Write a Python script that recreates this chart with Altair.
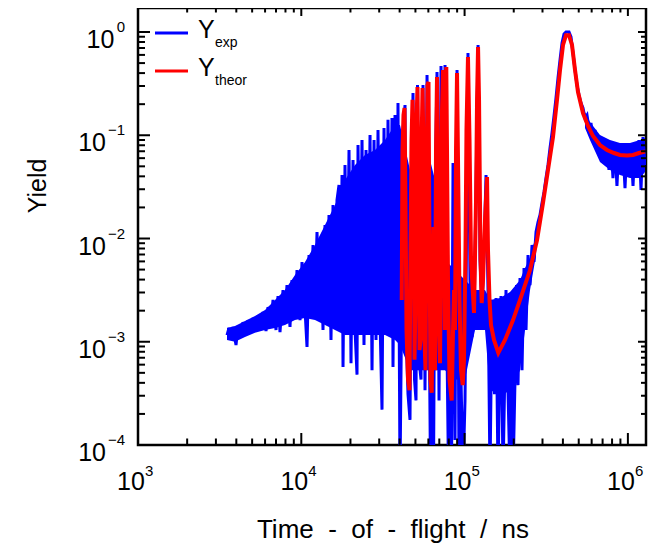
import altair as alt
import pandas as pd

FONT = "Liberation Sans"

# ---------------- data ----------------
# Experimental yield (blue) spikes, as (time-of-flight ns, yield)
exp_rise = [
    (3508, 0.00116), (3609, 0.00136), (3711, 0.00109), (3818, 0.00139), (3983, 0.00093),
    (4097, 0.00142), (4274, 0.00114), (4396, 0.00155), (4585, 0.00119), (4716, 0.00162),
    (4920, 0.00122), (5060, 0.00170), (5280, 0.00130), (5431, 0.00178), (5666, 0.00136),
    (5827, 0.00194), (6080, 0.00127), (6254, 0.00217), (6524, 0.00145), (6711, 0.00254),
    (7001, 0.00130), (7201, 0.00277), (7406, 0.00124), (7727, 0.00317), (7947, 0.00170),
    (8174, 0.00354), (8527, 0.00139), (8771, 0.00396), (9151, 0.00182), (9413, 0.00495),
    (9820, 0.00162), (10100, 0.00592), (10540, 0.00203), (10840, 0.00089), (11150, 0.00692),
    (11470, 0.00254), (11800, 0.00865), (12130, 0.00194), (12480, 0.01156), (12840, 0.00254),
    (13210, 0.00967), (13580, 0.00130), (13970, 0.0135), (14370, 0.00170), (14780, 0.0169),
    (15200, 0.00104), (15640, 0.0211), (16080, 0.00155), (16540, 0.0236),
]
exp_dense = [
    (17020, 0.0330), (17260, 0.00130), (17760, 0.0412), (18010, 0.00057), (18520, 0.0515),
    (19050, 0.00162), (19600, 0.0720), (20160, 0.00062), (20740, 0.0576), (21330, 0.00130),
    (21940, 0.00048), (22250, 0.0804), (22880, 0.00162), (23540, 0.0899), (24210, 0.00093),
    (24910, 0.0720), (25620, 0.00254), (26360, 0.1006), (27110, 0.00053), (27890, 0.0899),
    (28680, 0.00104), (29500, 0.1124), (30340, 0.00162), (31210, 0.00022), (32100, 0.1175),
    (33020, 0.00116), (33960, 0.141), (34930, 0.00254), (35930, 0.147), (36440, 0.00057),
    (37490, 0.157), (38560, 0.00130), (39100, 0.205), (40220, 5e-5),
]
exp_osc = [
    (41200, 0.00254), (41960, 0.1124), (43170, 0.196), (43780, 0.00130), (45030, 0.00031),
    (46320, 0.000175), (47310, 0.0236), (48320, 0.257), (49360, 0.00043), (50410, 0.00027),
    (51480, 0.307), (52580, 0.00067), (54090, 0.00043), (55640, 0.307), (57230, 0.00034),
    (58880, 0.383), (60560, 0.00254), (61850, 5e-5), (63170, 0.00130), (64520, 5e-5),
    (65900, 0.0236), (67780, 0.410), (69730, 0.00027), (71720, 0.469), (73770, 0.00254),
    (75880, 0.479), (78050, 0.00083), (79720, 5e-5), (81420, 0.00043), (83170, 5e-5),
    (84950, 0.0538), (87380, 0.000112), (89880, 0.428), (92440, 5e-5), (95080, 0.00043),
    (97790, 5e-5), (100600, 0.00027), (102000, 0.00254), (104900, 0.626), (107900, 0.00396),
    (111000, 0.00111), (114200, 0.00162), (117500, 0.0295), (120900, 0.748), (124300, 0.00619),
    (127900, 0.00203), (131500, 0.00774), (135300, 0.0412), (139100, 0.00317), (143100, 5e-5),
    (145100, 0.00034), (149300, 0.00254), (152500, 0.00031), (155800, 0.00265), (160200, 5e-5),
    (163600, 0.00038), (167100, 0.00277), (171900, 5e-5), (175600, 0.00034), (179300, 0.00317),
    (184500, 0.00032), (189700, 5e-5), (193800, 0.00254), (198000, 5e-5), (203600, 0.00043),
    (208000, 0.00354), (212400, 0.00038), (218500, 0.00414), (224700, 0.00053), (231200, 0.00518),
    (237800, 0.00130), (244600, 0.00692), (251600, 0.00354), (258800, 0.00865), (266200, 0.00592),
    (273800, 0.01156),
]
exp_peak = [
    (281600, 0.0144), (289600, 0.0169), (297900, 0.0221), (306400, 0.0282), (315200, 0.0385),
    (324200, 0.0515), (333500, 0.0752), (343000, 0.1051), (352800, 0.1536), (362900, 0.230),
    (373300, 0.3585), (384000, 0.5356), (395000, 0.782), (406300, 0.956), (417900, 1.0),
    (436000, 1.0), (448400, 0.895), (461200, 0.626), (474500, 0.428), (488000, 0.307),
    (501900, 0.2454), (516300, 0.205), (531000, 0.1836), (546200, 0.147), (561800, 0.157),
    (577900, 0.1175), (594300, 0.1314), (611400, 0.0899), (628800, 0.1124), (646800, 0.0752),
    (665200, 0.0983), (684300, 0.0644), (703800, 0.0899), (724000, 0.0538), (744600, 0.0860),
    (765900, 0.0461), (787800, 0.0841), (810200, 0.0385), (833400, 0.0787), (857200, 0.0323),
    (881700, 0.0804), (907800, 0.0441), (933500, 0.0720), (960300, 0.0308), (987600, 0.0823),
    (1016000, 0.0412), (1045000, 0.0770), (1075000, 0.0323), (1106000, 0.0841), (1137000, 0.0461),
    (1170000, 0.0899), (1203000, 0.0295), (1237000, 0.0962), (1273000, 0.0515),
]

# Dense core of the experimental band: (time ns, lower yield, upper yield)
exp_band_early = [
    (3508, 0.00104, 0.00136), (3927, 0.00100, 0.00142), (4521, 0.00111, 0.00159),
    (5206, 0.00122, 0.00178), (5995, 0.00130, 0.00203), (6902, 0.00136, 0.00254),
    (7947, 0.00145, 0.00317), (9151, 0.00162, 0.00443), (10540, 0.00170, 0.00592),
    (12130, 0.00162, 0.00865), (13970, 0.00145, 0.0135), (16080, 0.00130, 0.0211),
    (18520, 0.00116, 0.0369), (21330, 0.00116, 0.0515), (24550, 0.00116, 0.0644),
    (28280, 0.00116, 0.0720), (32560, 0.00116, 0.0899), (37490, 0.00104, 0.126),
    (40220, 0.00093, 0.126), (46320, 0.00053, 0.0461), (53330, 0.00053, 0.0576),
    (61420, 0.00053, 0.0576), (70710, 0.00053, 0.0236), (75880, 0.00053, 0.0062),
    (87380, 0.00043, 0.00495), (100600, 0.00043, 0.00396), (115800, 0.00130, 0.00317),
    (133400, 0.00130, 0.00317), (143100, 0.00034, 0.00254), (165000, 0.00031, 0.00265),
    (189700, 0.00033, 0.00303), (218500, 0.00053, 0.00396), (234400, 0.00130, 0.00518),
    (251600, 0.00317, 0.00648), (273800, 0.00692, 0.0108),
]
exp_band_tail = [
    (546200, 0.1175, 0.168), (586100, 0.0899, 0.1344), (674700, 0.0551, 0.1006),
    (776900, 0.0461, 0.0899), (894400, 0.0412, 0.0841), (1030000, 0.0385, 0.0841),
    (1186000, 0.0385, 0.0899), (1273000, 0.0441, 0.0941),
]

# Theoretical yield (red)
theor_pts = [
    (41200, 0.00254), (41670, 0.0720), (42260, 0.157), (42860, 0.1836), (43470, 0.0236),
    (44090, 0.00130), (45030, 0.00043), (45990, 0.00034), (46640, 0.00774), (47310, 0.0899),
    (47980, 0.220), (48670, 0.0369), (49360, 0.00067), (50060, 0.00254), (50760, 0.141),
    (51480, 0.293), (52220, 0.0236), (52960, 0.00083), (53700, 0.00104), (54460, 0.0720),
    (55250, 0.287), (56030, 0.0720), (56830, 0.00104), (57630, 0.00053), (58460, 0.0236),
    (59290, 0.307), (60120, 0.328), (60980, 0.00774), (61850, 0.00043), (62900, 0.00032),
    (63790, 0.00254), (64520, 0.0129), (65260, 0.00254), (65900, 0.00053), (66830, 0.0720),
    (67780, 0.366), (68740, 0.0720), (69730, 0.00130), (70710, 0.00062), (71720, 0.00774),
    (72740, 0.176), (73770, 0.428), (74810, 0.0236), (75660, 0.00130), (76410, 0.0720),
    (77270, 0.458), (78050, 0.0720), (79150, 0.00396), (80840, 0.00043), (83390, 0.00027),
    (84950, 0.00130), (86150, 0.00317), (87380, 0.00130), (88620, 0.0720), (89880, 0.401),
    (91150, 0.0576), (93100, 0.00254), (95080, 0.00053), (97380, 0.00038), (99170, 0.00067),
    (101300, 0.00774), (102700, 0.1124), (104900, 0.573), (107200, 0.0899), (109500, 0.00619),
    (114200, 0.00190), (117500, 0.0236), (119200, 0.220), (120900, 0.716), (122600, 0.220),
    (125200, 0.00619), (127300, 0.00237), (129700, 0.00396), (133400, 0.0151), (137200, 0.0394),
    (139100, 0.00774), (142100, 0.00254), (145100, 0.00145), (151400, 0.00104), (160900, 0.00078),
    (176800, 0.00104), (198000, 0.00162), (218500, 0.00254), (251600, 0.00495), (277700, 0.00967),
    (302100, 0.0221), (324200, 0.0461), (347900, 0.0962), (368100, 0.220), (384000, 0.428),
    (400600, 0.748), (417900, 0.93), (436000, 0.93), (454800, 0.748), (474500, 0.428),
    (494900, 0.262), (531000, 0.164), (569800, 0.123), (611400, 0.0983), (674700, 0.0804),
    (744600, 0.0720), (822500, 0.0673), (894100, 0.0644), (987600, 0.0637), (1075000, 0.0644),
    (1170000, 0.0673), (1273000, 0.0696),
]

x_decades = [3, 4, 5, 6]
y_decades = [-4, -3, -2, -1, 0]
x_min, x_max = 1e3, 1.291e6
y_min, y_max = 1e-4, 1.708

x_title = "Time\u00a0 -\u00a0 of\u00a0 -\u00a0 flight\u00a0 /\u00a0 ns"
y_title = "Yield"
legend_names = ["exp", "theor"]
legend_colors = ["#0000FF", "#FF0000"]

# ---------------- chart ----------------
W, H = 508, 437
BLUE, RED = "#0000FF", "#FF0000"
xs = alt.Scale(type="log", domain=[x_min, x_max], nice=False)
ys = alt.Scale(type="log", domain=[y_min, y_max], nice=False)

exp_df = pd.DataFrame(exp_rise + exp_dense + exp_osc + exp_peak, columns=["t", "y"])
theor_df = pd.DataFrame(theor_pts, columns=["t", "y"])


def band(rows):
    df = pd.DataFrame(rows, columns=["t", "lo", "hi"])
    return alt.Chart(df).mark_area(color=BLUE, opacity=1, clip=True).encode(
        x=alt.X("t:Q", scale=xs, axis=None),
        y=alt.Y("lo:Q", scale=ys, axis=None), y2="hi:Q")


blue = alt.Chart(exp_df).mark_line(color=BLUE, strokeWidth=3, clip=True).encode(
    x=alt.X("t:Q", scale=xs, axis=None), y=alt.Y("y:Q", scale=ys, axis=None))
red = alt.Chart(theor_df).mark_line(color=RED, strokeWidth=4, clip=True).encode(
    x=alt.X("t:Q", scale=xs, axis=None), y=alt.Y("y:Q", scale=ys, axis=None))

x_major_df = pd.DataFrame({"v": [10.0 ** k for k in x_decades], "e": [str(k) for k in x_decades]})
x_minor_df = pd.DataFrame({"v": [m * 10.0 ** k for k in x_decades for m in range(2, 10) if m * 10.0 ** k <= x_max]})
y_major_df = pd.DataFrame({
    "v": [10.0 ** k for k in y_decades],
    "e": [str(k).replace("-", "\u2212") for k in y_decades],
    "kind": ["neg" if k < 0 else "zero" for k in y_decades],
})
y_minor_df = pd.DataFrame({"v": [m * 10.0 ** k for k in y_decades for m in range(2, 10) if m * 10.0 ** k <= y_max]})


def xtick(df, a, b):
    return alt.Chart(df).mark_rule(color="black", strokeWidth=2).encode(
        x=alt.X("v:Q", scale=xs, axis=None), y=alt.value(a), y2=alt.value(b))


def ytick(df, a, b):
    return alt.Chart(df).mark_rule(color="black", strokeWidth=2).encode(
        y=alt.Y("v:Q", scale=ys, axis=None), x=alt.value(a), x2=alt.value(b))


ticks = [
    xtick(x_major_df, H, H - 12), xtick(x_minor_df, H, H - 6.5),
    xtick(x_major_df, 0, 8), xtick(x_minor_df, 0, 4.5),
    ytick(y_major_df, 0, 12), ytick(y_minor_df, 0, 7),
    ytick(y_major_df, W, W - 8), ytick(y_minor_df, W, W - 5),
]

xlab10 = alt.Chart(x_major_df).mark_text(font=FONT, fontSize=25, align="center", baseline="alphabetic",
                                         dx=-7, color="black").encode(
    x=alt.X("v:Q", scale=xs, axis=None), y=alt.value(482), text=alt.value("10"))
xlabexp = alt.Chart(x_major_df).mark_text(font=FONT, fontSize=15, align="left", baseline="alphabetic",
                                          dx=7, color="black").encode(
    x=alt.X("v:Q", scale=xs, axis=None), y=alt.value(468), text="e:N")

ylab10_neg = alt.Chart(y_major_df).transform_filter("datum.kind == 'neg'").mark_text(
    font=FONT, fontSize=25, align="right", baseline="alphabetic", dy=16, color="black").encode(
    y=alt.Y("v:Q", scale=ys, axis=None), x=alt.value(-32), text=alt.value("10"))
ylab10_zero = alt.Chart(y_major_df).transform_filter("datum.kind == 'zero'").mark_text(
    font=FONT, fontSize=25, align="right", baseline="alphabetic", dy=16, color="black").encode(
    y=alt.Y("v:Q", scale=ys, axis=None), x=alt.value(-23.7), text=alt.value("10"))
ylabexp = alt.Chart(y_major_df).mark_text(font=FONT, fontSize=15, align="right", baseline="alphabetic",
                                          color="black").encode(
    y=alt.Y("v:Q", scale=ys, axis=None), x=alt.value(-13), text="e:N")

title_df = pd.DataFrame({"xt": [x_title], "yt": [y_title]})
xtitle = alt.Chart(title_df).mark_text(font=FONT, fontSize=26, align="center", baseline="alphabetic",
                                       color="black").encode(
    x=alt.value(255), y=alt.value(530), text="xt:N")
ytitle = alt.Chart(title_df).mark_text(font=FONT, fontSize=25, align="center", baseline="middle",
                                       angle=270, color="black").encode(
    x=alt.value(-100), y=alt.value(178), text="yt:N")

legend_layers = []
for i, (name, col) in enumerate(zip(legend_names, legend_colors)):
    ldf = pd.DataFrame({"name": [name]})
    base_y = 25 + i * 38
    legend_layers.append(alt.Chart(ldf).mark_rule(color=col, strokeWidth=3).encode(
        x=alt.value(17), x2=alt.value(50), y=alt.value(base_y)))
    legend_layers.append(alt.Chart(ldf).mark_text(font=FONT, fontSize=25, align="left", baseline="alphabetic",
                                                  color="black").encode(
        x=alt.value(60), y=alt.value(base_y + 5), text=alt.value("Y")))
    legend_layers.append(alt.Chart(ldf).mark_text(font=FONT, fontSize=14, align="left", baseline="alphabetic",
                                                  color="black").encode(
        x=alt.value(77), y=alt.value(base_y + 14), text="name:N"))

chart = alt.layer(
    band(exp_band_early), band(exp_band_tail), blue, red, *ticks,
    xlab10, xlabexp, ylab10_neg, ylab10_zero, ylabexp, xtitle, ytitle, *legend_layers
).properties(
    width=W, height=H,
    autosize=alt.AutoSizeParams(type="none"),
    padding={"left": 130, "top": 0, "right": 15, "bottom": 98},
).configure_view(stroke="black", strokeWidth=2.5)

chart.save("out.html", embed_options={"renderer": "svg", "actions": False})
